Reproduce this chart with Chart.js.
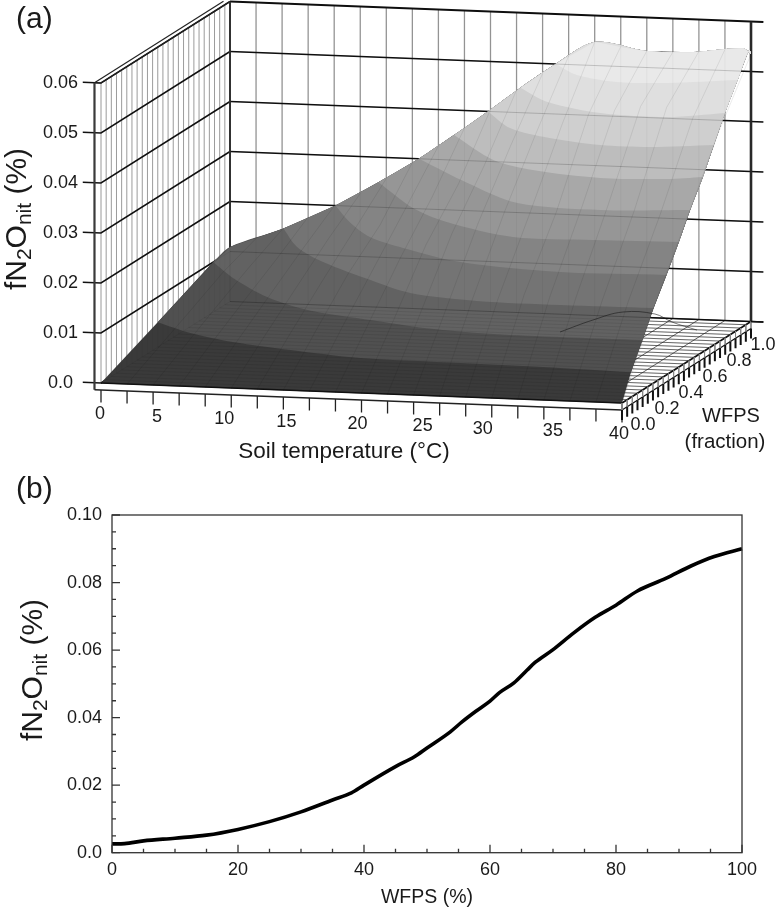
<!DOCTYPE html>
<html><head><meta charset="utf-8">
<style>
html,body{margin:0;padding:0;background:#fff;width:776px;height:913px;overflow:hidden}
canvas{position:absolute;left:0;display:block}
.t{position:absolute;font-family:"Liberation Sans",Arial,sans-serif;color:#1a1a1a;white-space:nowrap;line-height:1}
.r{transform:translate(-50%,-50%) rotate(-90deg)}
.c{transform:translate(-50%,-50%)}
.r sub{font-size:21px;vertical-align:baseline;position:relative;top:5px}
</style>
<script src="https://cdn.jsdelivr.net/npm/chart.js@4"></script>
</head><body>
<canvas id="a" width="776" height="470" style="top:0"></canvas>
<canvas id="b" width="776" height="443" style="top:470px"></canvas>
<div class="t" style="left:16px;top:3px;font-size:30px">(a)</div>
<div class="t" style="left:16px;top:473px;font-size:30px">(b)</div>
<div class="t r" style="left:16px;top:219px;font-size:30px">fN<sub>2</sub>O<sub>nit</sub> (%)</div>
<div class="t r" style="left:32px;top:670px;font-size:30px">fN<sub>2</sub>O<sub>nit</sub> (%)</div>
<div class="t c" style="left:344px;top:451px;font-size:22.5px">Soil temperature (°C)</div>
<div class="t c" style="left:731px;top:415px;font-size:20px">WFPS</div>
<div class="t c" style="left:725px;top:441px;font-size:20.5px">(fraction)</div>
<script>
// ---------- panel (a): axis ticks ----------
const tempLabelValues = [0,5,10,15,20,25,30,35,40];
const tempLabelNudge  = [-1,-9,-7,-10,-4,-4,-9,-4,-3];
const wfpsLabelValues = [0,0.2,0.4,0.6,0.8,1];
const wfpsLabels      = ['0.0','0.2','0.4','0.6','0.8','1.0'];
const zLabelValues    = [0,0.01,0.02,0.03,0.04,0.05,0.06];
const zLabels         = ['0.0','0.01','0.02','0.03','0.04','0.05','0.06'];

// ---------- panel (a): contour lines of the surface ----------
const contourLevels = [0,0.005,0.01,0.015,0.02,0.025,0.03,0.035,0.04,0.045,0.05];
const contourTemps = [
 [0,40],
 [0,3.6,7.7,12.8,18.75,26.6,33,40],
 [0,3.25,7.9,12.3,18,23,28.5,33.7,40],
 [4.1,7.2,10.8,16.3,20.65,26.4,32.9,40],
 [8.1,11,14.2,17.85,23.6,32,40],
 [11.4,16.85,20.9,27.4,33.55,40],
 [14.5,20.8,26.7,33.5,40],
 [17.2,22.9,26.9,32.7,37.6,40],
 [19.8,23.3,27.3,31.8,35.6,40],
 [22.3,25.9,31,36.3,40],
 [25,27.8,31.5,35.2,40]
];
const contourWfps = [
 [0,0],
 [0.44,0.33,0.244,0.176,0.115,0.102,0.092,0.07],
 [0.87,0.695,0.49,0.358,0.27,0.2,0.163,0.158,0.159],
 [1,0.793,0.631,0.443,0.311,0.248,0.238,0.245],
 [1,0.816,0.651,0.539,0.402,0.331,0.345],
 [1,0.717,0.57,0.426,0.427,0.441],
 [1,0.741,0.532,0.488,0.528],
 [1,0.729,0.631,0.569,0.587,0.627],
 [1,0.818,0.72,0.661,0.66,0.712],
 [1,0.846,0.742,0.726,0.798],
 [1,0.882,0.819,0.83,0.896]
];
const bandGrays = ['#3a3a3a','#505050','#626262','#747474','#848484','#969696','#a8a8a8','#bdbdbd','#cfcfcf','#dfdfdf','#e9e9e9'];

// rim of the surface
const leftRimWfps = [0,0.44,0.87,1];
const leftRimZ    = [0,0.005,0.01,0.0109];
const rightRimWfps = [0,0.07,0.159,0.245,0.345,0.441,0.528,0.627,0.712,0.798,0.896,0.985,1];
const rightRimZ    = [0,0.005,0.01,0.015,0.02,0.025,0.03,0.035,0.04,0.045,0.05,0.0546,0.0535];
const backRimTemps = [0,4.1,8.1,11.4,14.5,17.2,19.8,22.3,25,28,32,35.3,39.4];
const backRimZ     = [0.0109,0.015,0.02,0.025,0.03,0.035,0.04,0.045,0.05,0.0547,0.0533,0.0534,0.0546];

// mesh of the surface (temperature lines)
const meshTemps = [0,2,4,6,8,10,12,14,16,18,20,22,24,26,28,30,32,34,36,38,40];
const meshZ25 = [.0028,.0034,.0039,.0045,.0052,.006,.0068,.0077,.0085,.0093,.0106,.0118,.013,.015,.0155,.0165,.0165,.0165,.016,.016,.0153];
const meshZ50 = [.0057,.0068,.0078,.0088,.0102,.0118,.0133,.015,.0165,.0185,.0215,.024,.0262,.0285,.0288,.029,.0305,.031,.03,.0295,.0285];
const meshZ75 = [.0086,.0103,.0115,.013,.0152,.0175,.0195,.0208,.0245,.0268,.0295,.0335,.0375,.0405,.0425,.0445,.0455,.0465,.0465,.0445,.042];
const meshZ100= [.0109,.0128,.0148,.0175,.0199,.0226,.0258,.0292,.0327,.0365,.0404,.0445,.048,.0517,.0547,.054,.0533,.0533,.0536,.0542,.0535];
const meshWfps = [0,0.25,0.5,0.75,1];

// thin crease line on the surface (floor-plane reading)
const creaseTemps = [27.38,28.39,29.65,32.19,34.34,37.07];
const creaseWfps  = [0.794,0.947,1.053,1.044,0.959,0.877];

// ---------- panel (b) ----------
const curveWfps = [0,2,5,10,15,20,25,30,35,38,40,45,48,50,53.7,55.6,57.7,60,61.5,63.8,65.9,67.2,69.9,73.3,76.7,80,83.4,87.9,91.9,95.6,100];
const curveZ = [.0026,.0027,.0035,.0043,.0052,.0069,.0092,.0121,.0156,.0177,.02,.0255,.0284,.031,.0358,.0388,.0418,.0449,.0474,.0503,.0541,.0564,.06,.0651,.0697,.0733,.0775,.0812,.0849,.0877,.09];
const bYLabels = ['0.0','0.02','0.04','0.06','0.08','0.10'];

// oblique projection used by panel (a)
const proj = (T,W,z)=>({x:101+13.025*T+129*W, y:383+0.5*T-81.5*W-5000*z});
const FONT = '"Liberation Sans", Arial, sans-serif';
const seq = (a,b,s)=>{const r=[];for(let i=0;i*s<=b-a+1e-9;i++)r.push(a+i*s);return r;};
const BR = {x:NaN,y:NaN};
const segs = list=>{const d=[];list.forEach(l=>{d.push(...l,BR)});return d;};

const zGrid = seq(0,0.06,0.01);
const tGrid = seq(0,40,2);
const wGrid = seq(0,1,0.04);

const backZ  = zGrid.map(z=>[proj(0,1,z),proj(40.95,1,z)]);
const backT  = tGrid.map(T=>[proj(T,1,0),proj(T,1,0.06)]);
const leftZ  = zGrid.map(z=>[proj(-1.4,0,z),proj(0,0,z),proj(0,1,z)]);
const leftW  = wGrid.map(W=>[proj(0,W,0),proj(0,W,0.06)]);
const floorW = wGrid.map(W=>[proj(0,W,0),proj(40,W,0)]);
const floorT = tGrid.map(T=>[proj(T,0,0),proj(T,1,0)]);

const meshCols = [meshTemps.map(()=>0),meshZ25,meshZ50,meshZ75,meshZ100];
const meshTL = meshTemps.map((T,i)=>meshWfps.map((W,j)=>proj(T,W,meshCols[j][i])));

const bands = contourLevels.map((L,k)=>{
  const pts=[];
  const cw=contourWfps[k], ct=contourTemps[k], end=cw.length-1;
  // the doubled first and last contour points keep the corners with the rim sharp
  ct.forEach((T,i)=>{const p=proj(T,cw[i],L);pts.push(p);if(k>0&&(i===0||i===end))pts.push(p);});
  rightRimWfps.forEach((W,i)=>{if(rightRimZ[i]>L && W>cw[end]) pts.push(proj(40,W,rightRimZ[i]));});
  for(let i=backRimTemps.length-1;i>=0;i--) if(backRimZ[i]>L && backRimTemps[i]>=ct[0]) pts.push(proj(backRimTemps[i],1,backRimZ[i]));
  for(let i=leftRimWfps.length-1;i>=0;i--) if(leftRimZ[i]>L && leftRimWfps[i]<1) pts.push(proj(0,leftRimWfps[i],leftRimZ[i]));
  return pts;
});

const ds=[];
const line=(data,color,width,extra)=>ds.push(Object.assign({data,borderColor:color,borderWidth:width,showLine:true,pointRadius:0,fill:false,tension:0,spanGaps:false,borderCapStyle:'butt'},extra||{}));

// walls and floor
line(segs(floorW),'#606060',0.9);
line(segs(floorT),'#222',0.7);
line(segs(backT),'#999',1.3);
line(segs(leftW),'#a0a0a0',1);
line(segs(backZ.slice(0,6)),'#111',1.4);
line(segs(backZ.slice(6)),'#111',2);
line(segs(leftZ),'#111',1.5);
line([proj(-0.5,0,0.06),proj(-0.5,1,0.06)],'#222',1.2);
line([proj(0,0,0.06),proj(0,1,0.06)],'#222',1.2);
line([proj(-0.5,0,0.06),proj(0,0,0.06)],'#222',1.2);
line([proj(0,1,0),proj(0,1,0.06)],'#333',2);
line([proj(40,1,0),proj(40,1,0.06)],'#2a2a2a',2.6);
// surface bands, each painted over the one below
bands.forEach((p,k)=>ds.push({data:p,showLine:true,pointRadius:0,borderWidth:0,backgroundColor:bandGrays[k],fill:'shape',tension:k>0?0.3:0}));
// see-through of the walls and the floor
line(segs(floorW),'rgba(0,0,0,0.10)',0.8);
line(segs(backZ),'rgba(0,0,0,0.18)',1.1);
line(segs(backT),'rgba(0,0,0,0.04)',1);
line(segs(leftZ.map(l=>l.slice(1))),'rgba(0,0,0,0.05)',1);
line(segs(leftW),'rgba(0,0,0,0.03)',1);
line(segs(meshTL),'rgba(0,0,0,0.09)',0.9);
line(creaseTemps.map((T,i)=>proj(T,creaseWfps[i],0)),'rgba(20,20,20,0.7)',0.8,{tension:0.4});
// front axes
line([proj(-0.5,0,0.06),proj(-0.5,0,-0.0014)],'#3a3a3a',2.2);
line([proj(0,0,0),proj(40,0,0)],'#111',1.4);
line([proj(-0.5,0,-0.0014),proj(40,0,-0.0014)],'#222',1.3);
line(segs(tGrid.map(T=>[proj(T,0,-0.0014),proj(T,0,-0.0039)])),'#222',1.3);
line([proj(40,0,0),proj(40,1,0)],'#111',1.6);
line([proj(40,0,-0.0014),proj(40,1,-0.0014)],'#111',1.2);
line([proj(40,0,0),proj(40,0,-0.0014)],'#111',1.2);
line(segs(wGrid.map(W=>[proj(40,W,0),proj(40,W,-0.0014)])),'#888',1);
line(segs(wGrid.map(W=>[proj(40,W,-0.0014),proj(40,W,-0.0034)])),'#111',2);
line([proj(40,1,0),proj(40.95,1,0)],'#111',1.4);
ds.forEach((d,i)=>{d.order=ds.length-i;});

const aLabels={id:'aLabels',afterDraw(c){
  const x=c.scales.x,y=c.scales.y,g=c.ctx;
  const put=(s,p,dx,dy,al)=>{g.textAlign=al;g.fillText(s,x.getPixelForValue(p.x)+dx,y.getPixelForValue(p.y)+dy);};
  g.save();g.fillStyle='#1a1a1a';g.font='18px '+FONT;g.textBaseline='middle';
  zLabelValues.forEach((z,i)=>put(zLabels[i],proj(0,0,z),i===0?-28:-23,0,'right'));
  tempLabelValues.forEach((T,i)=>put(String(T),proj(T,0,0),tempLabelNudge[i],31.5-0.02*T,'center'));
  wfpsLabelValues.forEach((W,i)=>put(wfpsLabels[i],proj(40,W,0),21-9*W,22+1.5*W,'center'));
  g.restore();
}};

new Chart(document.getElementById('a'),{type:'scatter',data:{datasets:ds},plugins:[aLabels],options:{
  responsive:false,animation:false,devicePixelRatio:1,layout:{padding:0},
  plugins:{legend:{display:false},tooltip:{enabled:false},title:{display:false}},
  scales:{x:{type:'linear',display:false,min:0,max:776},y:{type:'linear',display:false,min:0,max:470,reverse:true}}
}});

const bFrame={id:'bFrame',afterDraw(c){
  const x=c.scales.x,y=c.scales.y,g=c.ctx,A=c.chartArea;
  g.save();g.strokeStyle='#333';g.lineWidth=1.3;
  g.strokeRect(A.left,A.top,A.right-A.left,A.bottom-A.top);
  g.beginPath();
  seq(0,100,5).forEach(v=>{const p=x.getPixelForValue(v),l=v%20===0?8:4;g.moveTo(p,A.bottom);g.lineTo(p,A.bottom-l);});
  seq(0,0.1,0.005).forEach((v,i)=>{const p=y.getPixelForValue(v),l=i%4===0?8:4;g.moveTo(A.left,p);g.lineTo(A.left+l,p);});
  g.stroke();g.restore();
}};

new Chart(document.getElementById('b'),{type:'scatter',
 data:{datasets:[{data:curveWfps.map((w,i)=>({x:w,y:curveZ[i]})),showLine:true,pointRadius:0,borderColor:'#000',borderWidth:3.6,cubicInterpolationMode:'monotone',clip:false,borderCapStyle:'butt',borderJoinStyle:'round'}]},
 plugins:[bFrame],
 options:{responsive:false,animation:false,devicePixelRatio:1,
  layout:{padding:{left:0,right:34,top:45,bottom:4}},
  plugins:{legend:{display:false},tooltip:{enabled:false}},
  scales:{
   x:{type:'linear',min:0,max:100,grid:{display:false,drawTicks:false},border:{display:false},
      ticks:{stepSize:20,maxRotation:0,padding:7,color:'#1a1a1a',font:{family:FONT,size:18}},
      title:{display:true,text:'WFPS (%)',color:'#1a1a1a',font:{family:FONT,size:19.5},padding:0},
      afterFit(s){s.height=56.3;}},
   y:{type:'linear',min:0,max:0.1,grid:{display:false,drawTicks:false},border:{display:false},
      ticks:{stepSize:0.02,padding:10,color:'#1a1a1a',font:{family:FONT,size:18},callback:(v,i)=>bYLabels[i]},
      afterFit(s){s.width=112;}}
  }}
});
</script>
</body></html>
